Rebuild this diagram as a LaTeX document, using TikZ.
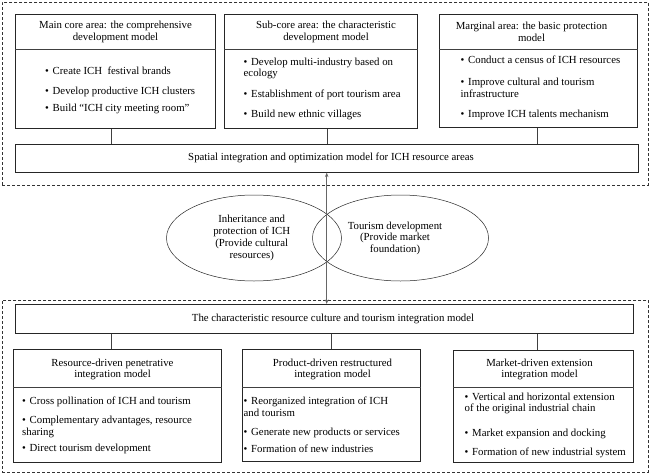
\documentclass[tikz,border=0pt]{standalone}
\usepackage{fontspec}
\setmainfont{Liberation Serif}
\usetikzlibrary{arrows.meta,shapes.geometric}
\newcommand\itm[1]{\parbox[t]{220pt}{\raggedright\hangindent=7.5pt\hangafter=1\makebox[7.5pt][l]{\textbullet}#1}}
\tikzset{
  frame/.style={draw=black!80, line width=0.6pt, dash pattern=on 3pt off 2pt},
  box/.style={draw=black!85, line width=0.6pt, inner sep=0pt, anchor=north west},
  hdr/.style={align=center, inner sep=0pt, font=\fontsize{10.8}{11.8}\selectfont},
  item/.style={anchor=base west, inner sep=0pt, font=\fontsize{10.8}{11.8}\selectfont},
  ell/.style={draw=black!85, line width=0.5pt, ellipse},
  link/.style={draw=black!75, line width=0.6pt},
  dbl/.style={draw=black!60, line width=0.8pt, {Stealth[length=4.5pt,width=3.5pt]}-{Stealth[length=4.5pt,width=3.5pt]}}
}
\begin{document}
\begin{tikzpicture}[x=1pt,y=-1pt]
\useasboundingbox (0,0) rectangle (650,474);
\fill[white] (0,0) rectangle (650,474);
% dashed frames
\node[frame, anchor=north west, minimum width=646pt, minimum height=183pt, inner sep=0pt] (topframe) at (2,2) {};
\node[frame, anchor=north west, minimum width=646pt, minimum height=172pt, inner sep=0pt] (botframe) at (2,300) {};

% top boxes
\node[box, minimum width=200pt, minimum height=114pt] (b1) at (15,14) {};
\node[box, minimum width=193pt, minimum height=114pt] (b2) at (224,14) {};
\node[box, minimum width=198pt, minimum height=113pt] (b3) at (439,14) {};
\coordinate (s1) at (0,49);
\draw[link] (b1.west |- s1) -- (b1.east |- s1);
\draw[link] (b2.west |- s1) -- (b2.east |- s1);
\draw[link] (b3.west |- s1) -- (b3.east |- s1);

\node[hdr] (h1) at (115.5,32) {Main core area: the comprehensive\\development model};
\node[hdr] (h2) at (326,32) {Sub-core area: the characteristic\\development model};
\node[hdr] (h3) at (531.5,32) {Marginal area: the basic protection\\model};

\node[item] (i11) at (45,74) {\itm{Create ICH\ \ festival brands}};
\node[item] (i12) at (45,94) {\itm{Develop productive ICH clusters}};
\node[item] (i13) at (45,111) {\itm{Build ``ICH city meeting room''}};

\node[item] (i21) at (243.5,65) {\itm{Develop multi-industry based on\\ecology}};
\node[item] (i22) at (243.5,97.5) {\itm{Establishment of port tourism area}};
\node[item] (i23) at (243.5,117.5) {\itm{Build new ethnic villages}};

\node[item] (i31) at (460.5,63.3) {\itm{Conduct a census of ICH resources}};
\node[item] (i32) at (460.5,85.6) {\itm{Improve cultural and tourism\\infrastructure}};
\node[item] (i33) at (460.5,117.3) {\itm{Improve ICH talents mechanism}};

% spatial box
\node[box, minimum width=623pt, minimum height=28pt] (sp) at (15,144) {};
\node[hdr] (spt) at (331,158) {Spatial integration and optimization model for ICH resource areas};

\coordinate (c1) at (111,0);
\coordinate (c2) at (327,0);
\coordinate (c3) at (537,0);
\draw[link] (c1 |- b1.south) -- (c1 |- sp.north);
\draw[link] (c2 |- b2.south) -- (c2 |- sp.north);
\draw[link] (c3 |- b3.south) -- (c3 |- sp.north);

% ellipses
\node[ell, minimum width=175pt, minimum height=86pt, inner sep=0pt] (e1) at (254,238) {};
\node[ell, minimum width=176pt, minimum height=86pt, inner sep=0pt] (e2) at (400.5,238) {};
\node[hdr] (e1t) at (251.7,238) {Inheritance and\\protection of ICH\\(Provide cultural\\resources)};
\node[hdr] (e2t) at (395,238.3) {Tourism development\\(Provide market\\foundation)};

% integration box
\node[box, minimum width=618pt, minimum height=29pt] (ig) at (15,304) {};
\node[hdr] (igt) at (333,319) {The characteristic resource culture and tourism integration model};

\coordinate (ax) at (326.7,0);
\draw[dbl] (ax |- sp.south) -- (ax |- ig.north);

% bottom boxes
\node[box, minimum width=208pt, minimum height=113pt] (bA) at (13,349) {};
\node[box, minimum width=178pt, minimum height=112pt] (bB) at (242,349) {};
\node[box, minimum width=180pt, minimum height=112pt] (bC) at (453,350) {};
\coordinate (s2) at (0,387);
\draw[link] (bA.west |- s2) -- (bA.east |- s2);
\draw[link] (bB.west |- s2) -- (bB.east |- s2);
\draw[link] (bC.west |- s2) -- (bC.east |- s2);

\node[hdr] (hA) at (112.5,369.5) {Resource-driven penetrative\\integration model};
\node[hdr] (hB) at (332.5,369.5) {Product-driven restructured\\integration model};
\node[hdr] (hC) at (539.5,369.5) {Market-driven extension\\integration model};

\node[item] (iA1) at (22,404.3) {\itm{Cross pollination of ICH and tourism}};
\node[item] (iA2) at (22,423.3) {\itm{Complementary advantages, resource\\sharing}};
\node[item] (iA3) at (22,451) {\itm{Direct tourism development}};

\node[item] (iB1) at (243.5,404.3) {\itm{Reorganized integration of ICH\\and tourism}};
\node[item] (iB2) at (243.5,435) {\itm{Generate new products or services}};
\node[item] (iB3) at (243.5,452.6) {\itm{Formation of new industries}};

\node[item] (iC1) at (464.5,400) {\itm{Vertical and horizontal extension\\of the original industrial chain}};
\node[item] (iC2) at (464.5,436.6) {\itm{Market expansion and docking}};
\node[item] (iC3) at (464.5,455) {\itm{Formation of new industrial system}};

\coordinate (d1) at (111,0);
\coordinate (d2) at (331,0);
\coordinate (d3) at (537,0);
\draw[link] (d1 |- ig.south) -- (d1 |- bA.north);
\draw[link] (d2 |- ig.south) -- (d2 |- bB.north);
\draw[link] (d3 |- ig.south) -- (d3 |- bC.north);
\end{tikzpicture}
\end{document}
